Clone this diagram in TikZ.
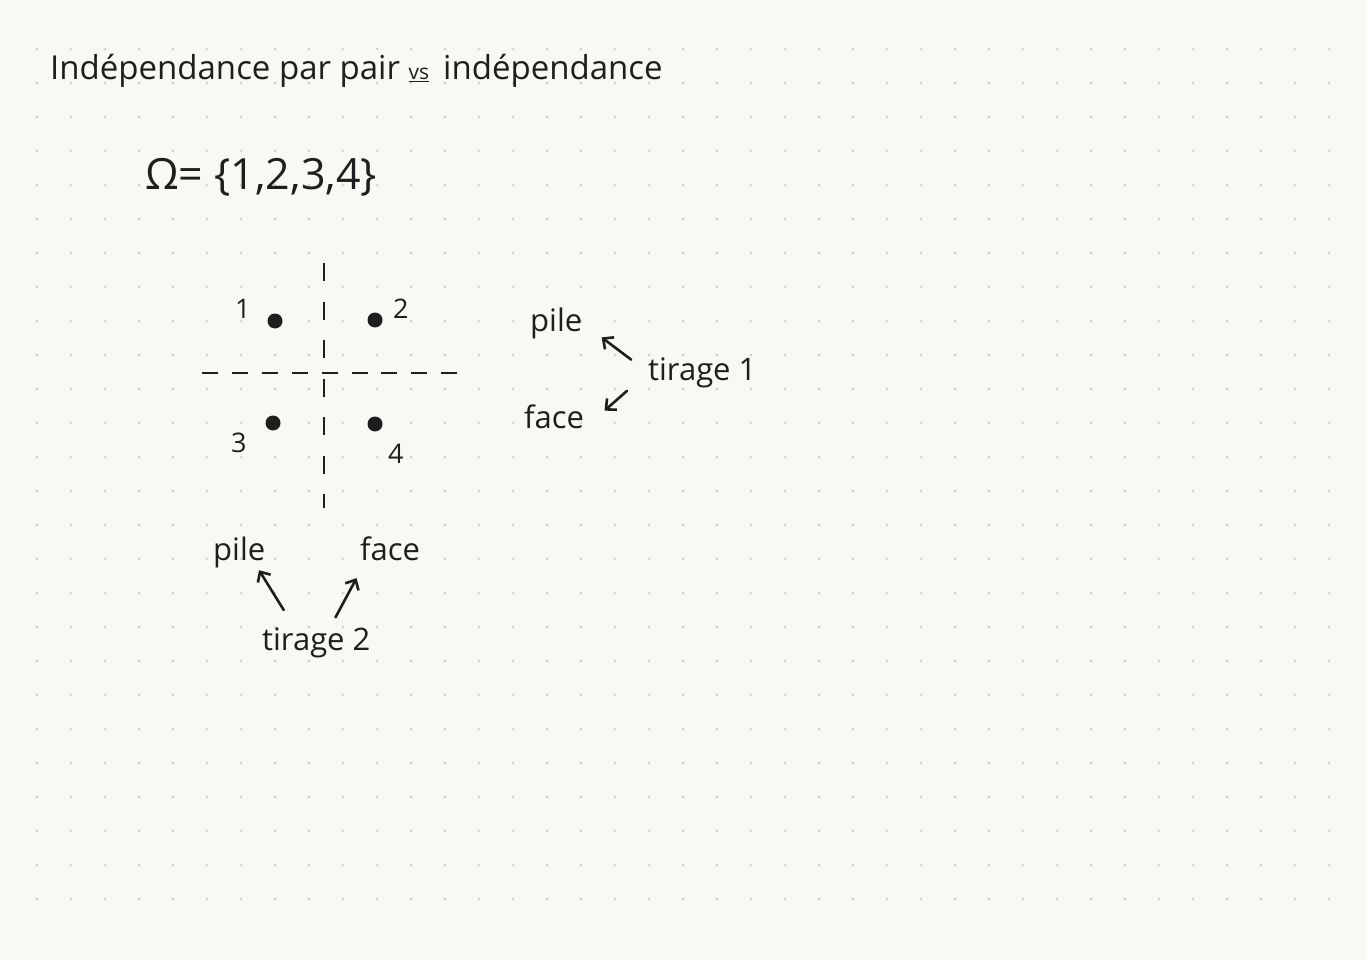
\documentclass[tikz,border=0pt]{standalone}
\usepackage{fontspec}
\setmainfont{Open Sans}
\usepackage{xcolor}
\usetikzlibrary{arrows.meta,positioning}
\definecolor{paper}{HTML}{F9F9F3}
\definecolor{gridgray}{HTML}{D6D6D0}
\definecolor{ink}{HTML}{1E1E1E}

\begin{document}
\begin{tikzpicture}[x=1pt, y=-1pt,
    word/.style={anchor=base west, inner sep=0pt, text=ink, font=\fontsize{31}{37}\selectfont},
    digit/.style={anchor=base west, inner sep=0pt, text=ink, font=\fontsize{27}{32}\selectfont},
    point/.style={circle, fill=ink, minimum size=15pt, inner sep=0pt},
    axis/.style={draw=ink, line width=2.8pt},
    arrow/.style={draw=ink, line width=2.6pt, line cap=round, -{Straight Barb[length=8pt,width=15pt]}}
]
\fill[paper] (0,0) rectangle (1366,960);
\useasboundingbox (0,0) rectangle (1366,960);
\foreach \i in {0,...,38}
  \foreach \j in {0,...,25}
    \fill[gridgray] (37+34*\i,49+34*\j) circle (1.6pt);

% titre
\node[word, font=\fontsize{33}{39}\selectfont] (title) at (50,80) {Indépendance par pair \underline{\fontsize{21}{24}\selectfont vs}\, indépendance};
\node[word, font=\fontsize{43}{50}\selectfont] (omega) at (145,190) {Ω= \{1,2,3,4\}};

% axes et points
\draw[axis, dash pattern=on 18pt off 20.5pt] (324,263) -- (324,508);
\draw[axis, dash pattern=on 16pt off 13.9pt] (202,373) -- (457,373);
\node[point] (e1) at (275,321) {};
\node[point] (e2) at (375,320) {};
\node[point] (e3) at (273,423) {};
\node[point] (e4) at (375,424) {};
\node[digit] (l1) at (235,319) {1};
\node[digit] (l2) at (393,319) {2};
\node[digit] (l3) at (231,452) {3};
\node[digit] (l4) at (388,463) {4};

% tirage 1
\node[word] (pile1) at (530,331) {pile};
\node[word] (face1) at (524,428) {face};
\node[word] (tir1)  at (648,380) {tirage 1};
\draw[arrow, shorten <=21pt, shorten >=24pt] (tir1.west) -- (pile1.east);
\draw[arrow, shorten <=28pt, shorten >=27pt] (tir1.west) -- (face1.south east);

% tirage 2
\node[word] (pile2) at (213,560) {pile};
\node[word] (face2) at (360,560) {face};
\node[word] (tir2)  at (262,650) {tirage 2};
\draw[arrow, shorten <=20pt, shorten >=3pt] ([xshift=-22pt]tir2.north) -- ([xshift=-8pt]pile2.south east);
\draw[arrow, shorten <=11pt, shorten >=20pt] ([xshift=14pt]tir2.north) -- ([xshift=6pt]face2.south west);
\end{tikzpicture}
\end{document}
